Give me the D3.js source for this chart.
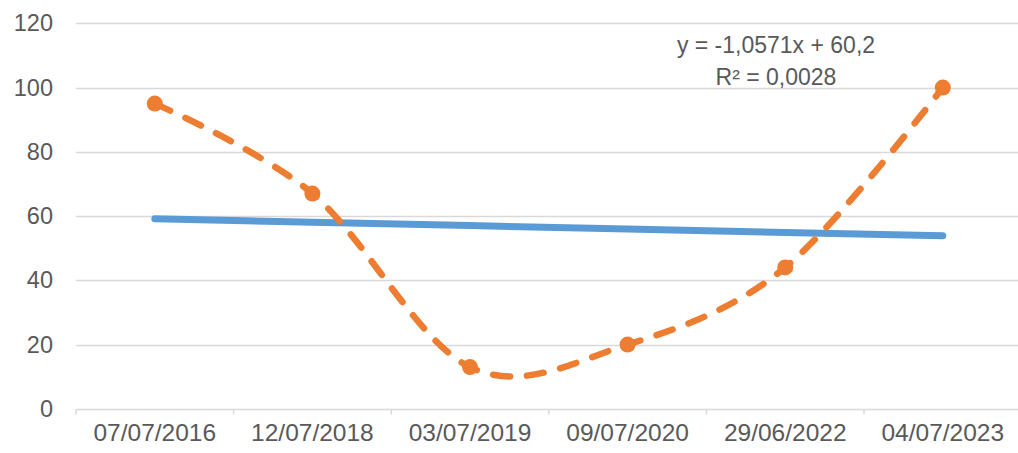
<!DOCTYPE html>
<html>
<head>
<meta charset="utf-8">
<script src="https://cdn.jsdelivr.net/npm/d3@7"></script>
<style>
  html, body { margin: 0; padding: 0; background: #fff; }
  svg { display: block; font-family: "Liberation Sans", Arial, sans-serif; }
</style>
</head>
<body>
<svg id="chart"></svg>
<script>
// Data
const categories = ['07/07/2016', '12/07/2018', '03/07/2019', '09/07/2020', '29/06/2022', '04/07/2023'];
const values = [95, 67, 13, 20, 44, 100];
const yTicks = [0, 20, 40, 60, 80, 100, 120];
const trendLabel = ['y = -1,0571x + 60,2', 'R\u00b2 = 0,0028'];

const width = 1018;
const height = 453;

const svg = d3.select('#chart')
  .attr('width', width)
  .attr('height', height);

// Scales
const xScale = d3.scaleBand()
  .domain(categories)
  .range([76, 1021.6])
  .padding(0);

const yScale = d3.scaleLinear()
  .domain([0, 120])
  .range([408.8, 23.3]);

const cx = d => xScale(d) + xScale.bandwidth() / 2;

// Grid lines
svg.append('g')
  .selectAll('line')
  .data(yTicks.filter(t => t > 0))
  .enter()
  .append('line')
  .attr('x1', 76)
  .attr('x2', width)
  .attr('y1', d => Math.round(yScale(d)) + 0.5)
  .attr('y2', d => Math.round(yScale(d)) + 0.5)
  .attr('stroke', '#d9d9d9')
  .attr('stroke-width', 1.3);

// Y axis labels
const yAxis = d3.axisLeft(yScale)
  .tickValues(yTicks)
  .tickSize(0)
  .tickPadding(23);

svg.append('g')
  .attr('transform', 'translate(76,0)')
  .call(yAxis)
  .call(g => g.select('.domain').remove())
  .selectAll('text')
  .attr('fill', '#595959')
  .style('font-size', '23.5px')
  .style('font-family', '"Liberation Sans", Arial, sans-serif');

// X axis
const xAxis = d3.axisBottom(xScale)
  .tickSize(0)
  .tickPadding(14);

const xg = svg.append('g')
  .attr('transform', `translate(0,${Math.round(yScale(0)) + 0.5})`)
  .call(xAxis);

xg.select('.domain')
  .attr('stroke', '#d9d9d9')
  .attr('stroke-width', 1.5)
  .attr('d', `M76,0H${width}`);

xg.selectAll('text')
  .attr('fill', '#595959')
  .attr('dy', '0.72em')
  .style('font-size', '24.5px')
  .style('font-family', '"Liberation Sans", Arial, sans-serif');

// Category boundary tick marks
xg.append('g')
  .selectAll('line')
  .data(categories)
  .enter()
  .append('line')
  .attr('x1', d => xScale(d))
  .attr('x2', d => xScale(d))
  .attr('y1', 0)
  .attr('y2', 5)
  .attr('stroke', '#d9d9d9')
  .attr('stroke-width', 1.5);

// Linear trend line (least squares over category index 1..n)
const idx = values.map((v, i) => i + 1);
const mx = d3.mean(idx);
const my = d3.mean(values);
const slope = d3.sum(idx, (x, i) => (x - mx) * (values[i] - my)) / d3.sum(idx, x => (x - mx) * (x - mx));
const intercept = my - slope * mx;

const trendLine = d3.line()
  .x(d => cx(d))
  .y((d, i) => yScale(intercept + slope * (i + 1)));

svg.append('path')
  .datum(categories)
  .attr('fill', 'none')
  .attr('stroke', '#5b9bd5')
  .attr('stroke-width', 7)
  .attr('stroke-linecap', 'round')
  .attr('d', trendLine);

// Smoothed dashed series
const line = d3.line()
  .x((d, i) => cx(categories[i]))
  .y(d => yScale(d))
  .curve(d3.curveCardinal.tension(0));

svg.append('path')
  .datum(values)
  .attr('fill', 'none')
  .attr('stroke', '#ed7d31')
  .attr('stroke-width', 6.5)
  .attr('stroke-linecap', 'round')
  .attr('stroke-dasharray', '17,17')
  .attr('d', line);

svg.append('g')
  .selectAll('circle')
  .data(values)
  .enter()
  .append('circle')
  .attr('cx', (d, i) => cx(categories[i]))
  .attr('cy', d => yScale(d))
  .attr('r', 8)
  .attr('fill', '#ed7d31');

// Trend line equation label
svg.append('g')
  .selectAll('text')
  .data(trendLabel)
  .enter()
  .append('text')
  .attr('x', 776)
  .attr('y', (d, i) => 53 + i * 32)
  .attr('text-anchor', 'middle')
  .attr('fill', '#595959')
  .style('font-size', '23px')
  .text(d => d);
</script>
</body>
</html>
